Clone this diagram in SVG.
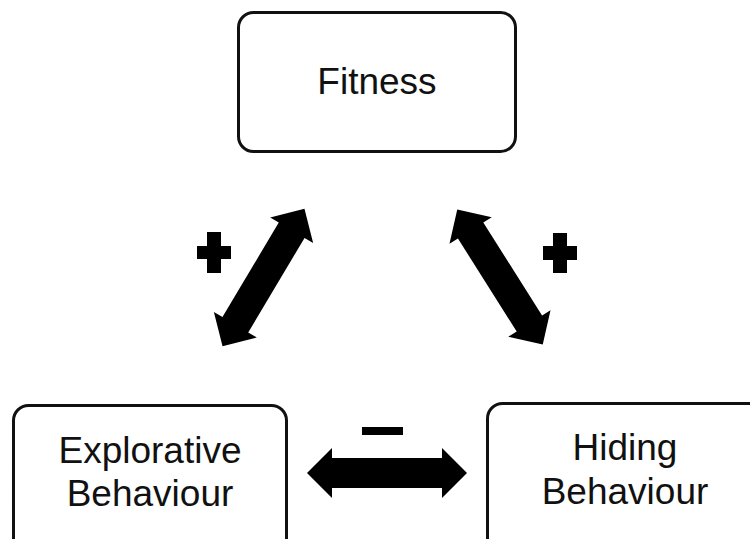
<svg xmlns="http://www.w3.org/2000/svg" width="750" height="539" viewBox="0 0 750 539">
<style>
.box{fill:#fff;stroke:#111;stroke-width:3}
.lbl{font-family:"Liberation Sans",Arial,sans-serif;font-size:37px;fill:#111;text-anchor:middle}
.sign{fill:#000}
</style>
<defs>
<path id="dbl" d="M-80,0 L-55,-25 L-55,-15 L55,-15 L55,-25 L80,0 L55,25 L55,15 L-55,15 L-55,25 Z" fill="#000"/>
</defs>
<rect width="750" height="539" fill="#fff"/>
<g id="connectors">
<use href="#dbl" transform="translate(263.5,277.5) rotate(-59.2)"/>
<use href="#dbl" transform="translate(500,277) rotate(57.7)"/>
<use href="#dbl" transform="translate(387,473)"/>
<g id="signs" class="sign">
<rect x="197" y="246" width="34" height="13"/>
<rect x="207" y="232" width="14" height="41"/>
<rect x="543" y="246" width="34" height="14"/>
<rect x="553" y="233" width="14" height="40"/>
<rect x="362" y="427" width="41" height="8"/>
</g>
</g>
<g id="fitness">
<rect class="box" x="238.5" y="12.5" width="277" height="139" rx="15"/>
<text class="lbl" x="377" y="94">Fitness</text>
</g>
<g id="explorative">
<rect class="box" x="13.5" y="405.5" width="273" height="150" rx="15"/>
<text class="lbl" x="150" y="463">Explorative</text>
<text class="lbl" x="150" y="505.5">Behaviour</text>
</g>
<g id="hiding">
<rect class="box" x="487.5" y="403.5" width="280" height="150" rx="15"/>
<text class="lbl" x="625" y="460">Hiding</text>
<text class="lbl" x="625" y="504">Behaviour</text>
</g>
</svg>
